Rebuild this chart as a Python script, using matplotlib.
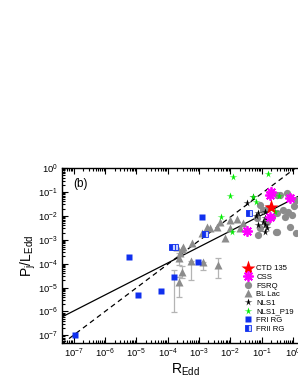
import numpy as np
import matplotlib
matplotlib.use("Agg")
import matplotlib.pyplot as plt
from matplotlib.ticker import LogLocator, NullFormatter, FixedLocator

plt.rcParams['font.family'] = ['Liberation Sans', 'DejaVu Sans']
plt.rcParams['mathtext.fontset'] = 'custom'
plt.rcParams['mathtext.rm'] = 'Liberation Sans'
plt.rcParams['mathtext.it'] = 'Liberation Sans:italic'

# values (log10 R_Edd, log10 Pj/L_Edd)
fsrq_x = [-0.42, -0.20, -0.10, 0.09, -0.31, -0.15, 0.03, -0.52, -0.68, -0.55, -1.11, -1.06,
          -0.84, -0.26, -0.52, -1.06, -0.95, -1.16, -0.79, -0.10, 0.11, -0.51, -0.04]
fsrq_y = [-1.13, -1.06, -1.23, -1.34, -1.76, -1.83, -1.59, -1.90, -2.04, -2.67, -2.80, -2.52,
          -2.25, -2.04, -1.13, -1.55, -1.76, -2.10, -1.69, -2.46, -2.73, -2.69, -1.97]

bllac_x = [-3.72, -3.56, -3.61, -3.51, -3.64, -3.53, -3.64, -3.27, -2.87, -2.39, -3.21, -2.92,
           -2.76, -2.65, -2.44, -2.34, -2.02, -1.80, -2.18, -2.02, -1.70, -1.61]
bllac_y = [-3.29, -3.40, -3.57, -3.32, -3.78, -4.34, -4.76, -3.88, -3.92, -4.06, -3.13, -2.73,
           -2.46, -2.52, -2.46, -2.25, -2.18, -2.15, -2.94, -2.52, -2.52, -2.31]
# error bars (log lower / upper) for some BL Lacs
bllac_err_idx = [4, 5, 6, 7, 8, 9]
bllac_err_lo = [-4.05, -4.60, -5.38, -4.69, -4.27, -4.60]
bllac_err_hi = [-3.55, -4.10, -4.55, -3.88, -3.92, -3.77]

nls1_x = [-1.48, -1.27, -1.19, -1.11, -0.90, -0.90, -0.95, -0.90, -0.90, -0.84, -1.11]
nls1_y = [-1.45, -1.20, -2.01, -1.90, -1.83, -2.10, -2.25, -2.38, -2.67, -2.51, -2.38]

p19_x = [-1.91, -0.79, -2.00, -1.18, -0.45, -2.29, -1.96, -0.58, -1.29]
p19_y = [-0.36, -0.27, -1.17, -1.44, -1.19, -2.06, -2.68, -1.83, -1.20]

css_x = [-0.74, -0.70, -0.08, -0.74, -1.48]
css_y = [-1.13, -0.99, -1.27, -2.06, -2.62]

ctd_x = [-0.71]
ctd_y = [-1.62]

fri_x = [-6.97, -5.24, -4.95, -4.22, -3.79, -3.05, -2.90]
fri_y = [-6.99, -3.71, -5.31, -5.13, -4.56, -3.92, -2.04]
fri_err_idx = [4]
fri_err_lo = [-6.01]
fri_err_hi = [-4.27]

frii_x = [-3.88, -3.76, -2.81, -1.42]
frii_y = [-3.29, -3.29, -2.76, -1.87]

# linear fits in log space: slope, intercept
fit_solid = (0.668, -1.30)
fit_dashed = (0.986, -0.08)

xlim_log = (-7.38, 0.5)
ylim_log = (-7.32, 0.0)
x_decades = list(range(-7, 1))
y_decades = list(range(-7, 1))


def p(v):
    return 10.0 ** np.asarray(v)


fig = plt.figure(figsize=(2.98, 3.85), dpi=100)
ax = fig.add_axes([62 / 298, 42 / 385, 246.6 / 298, 175 / 385])
ax.set_xscale('log')
ax.set_yscale('log')

errc = '#b4b4b4'
for i, lo, hi in zip(bllac_err_idx, bllac_err_lo, bllac_err_hi):
    ax.errorbar(p(bllac_x[i]), p(bllac_y[i]),
                yerr=[[p(bllac_y[i]) - p(lo)], [p(hi) - p(bllac_y[i])]],
                fmt='none', ecolor=errc, elinewidth=0.9, capsize=2.5, capthick=0.9, zorder=1)
for i, lo, hi in zip(fri_err_idx, fri_err_lo, fri_err_hi):
    ax.errorbar(p(fri_x[i]), p(fri_y[i]),
                yerr=[[p(fri_y[i]) - p(lo)], [p(hi) - p(fri_y[i])]],
                fmt='none', ecolor=errc, elinewidth=0.9, capsize=2.5, capthick=0.9, zorder=1)

xx = np.array(xlim_log)
ax.plot(p(xx), p(fit_solid[0] * xx + fit_solid[1]), color='black', lw=0.9, zorder=2)
ax.plot(p(xx), p(fit_dashed[0] * xx + fit_dashed[1]), color='black', lw=0.9,
        ls=(0, (4, 3)), zorder=2)

h_fsrq, = ax.plot(p(fsrq_x), p(fsrq_y), 'o', color='#8c8c8c', ms=5.2, mec='none', zorder=3)
h_bl, = ax.plot(p(bllac_x), p(bllac_y), '^', color='#8c8c8c', ms=5.2, mec='none', zorder=3)
h_nls1, = ax.plot(p(nls1_x), p(nls1_y), '*', color='black', ms=5.5, mec='none', zorder=4)
h_p19, = ax.plot(p(p19_x), p(p19_y), '*', color='#00ee00', ms=5.5, mec='none', zorder=4)
h_css, = ax.plot(p(css_x), p(css_y), marker=(8, 2, 0), ls='none', color='#ff00ff',
                 ms=7.5, mew=1.3, zorder=5)
h_fri, = ax.plot(p(fri_x), p(fri_y), 's', color='#1030ee', ms=3.8, mec='none', zorder=4)
h_frii, = ax.plot(p(frii_x), p(frii_y), 's', color='#1030ee', ms=3.8, mec='#1030ee', mew=0.6,
                  fillstyle='left', markerfacecoloralt='#c8d2ff', zorder=4)
h_ctd, = ax.plot(p(ctd_x), p(ctd_y), '*', color='#ff0000', ms=11, mec='none', zorder=6)

ax.legend([h_ctd, h_css, h_fsrq, h_bl, h_nls1, h_p19, h_fri, h_frii],
          ['CTD 135', 'CSS', 'FSRQ', 'BL Lac', 'NLS1', 'NLS1_P19', 'FRI RG', 'FRII RG'],
          loc='upper left', bbox_to_anchor=(0.734, 0.455), frameon=False, fontsize=5.6,
          handlelength=1.0, handletextpad=0.5, labelspacing=0.15, borderpad=0.2,
          borderaxespad=0)

ax.set_xlim(p(xlim_log[0]), p(xlim_log[1]))
ax.set_ylim(p(ylim_log[0]), p(ylim_log[1]))

ax.xaxis.set_major_locator(FixedLocator(p(x_decades)))
ax.yaxis.set_major_locator(FixedLocator(p(y_decades)))
for axis in (ax.xaxis, ax.yaxis):
    axis.set_minor_locator(LogLocator(base=10, subs=np.arange(2, 10), numticks=20))
    axis.set_minor_formatter(NullFormatter())
ax.tick_params(which='both', direction='in', top=True, right=True, labelsize=6.8, width=0.8)
ax.tick_params(which='major', length=4, pad=3)
ax.tick_params(which='minor', length=2)
for s in ax.spines.values():
    s.set_linewidth(1.0)

ax.set_xlabel(r'R$_\mathregular{Edd}$', fontsize=10, labelpad=1)
ax.set_ylabel(r'P$_\mathregular{j}$/L$_\mathregular{Edd}$', fontsize=10, labelpad=0)
ax.text(0.077, 0.91, '(b)', transform=ax.transAxes, fontsize=8.5, ha='center', va='center')

fig.savefig('out.png', dpi=100)
